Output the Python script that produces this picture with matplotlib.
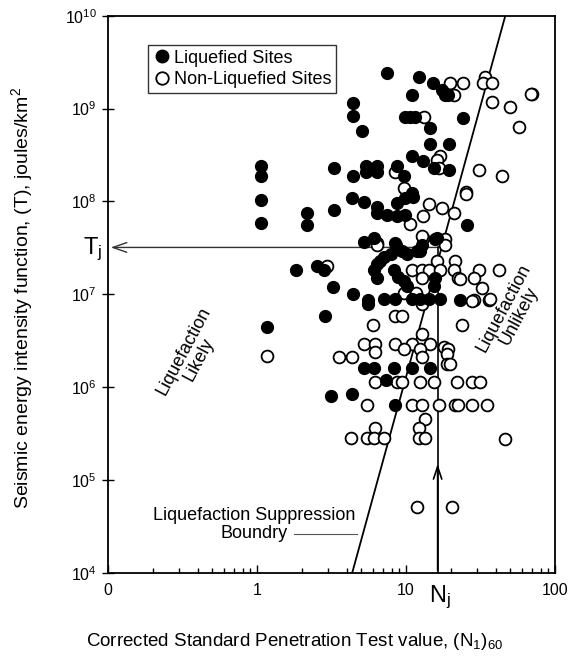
# -----------------
# import libraries
# -----------------
import numpy as np
import matplotlib
matplotlib.use("Agg")
import matplotlib.pyplot as plt
from matplotlib.lines import Line2D

plt.rcParams["font.family"] = ["Liberation Sans", "DejaVu Sans"]
plt.rcParams["mathtext.default"] = "regular"

# ----------------------------------------
# Data: (N1)60 and T
# ----------------------------------------
liq_n = [7.5, 12.2, 15.2, 17.5, 18.2, 19.0, 11.0, 4.4, 4.4, 5.1, 9.8, 10.6, 11.5, 14.4, 24.0,
         14.4, 19.5, 11.0, 13.0, 15.4, 19.5, 1.07, 1.07, 3.3, 4.4, 5.35, 5.35, 6.4, 6.4, 8.7,
         9.75, 11.0, 1.07, 1.07, 2.18, 2.18, 3.3, 4.35, 5.2, 6.4, 6.4, 7.5, 8.7, 9.9, 8.7, 9.9,
         11.2, 25.6, 5.2, 6.1, 8.5, 8.6, 9.4, 10.2, 12.8, 12.5, 16.1, 15.7, 11.9, 7.1, 6.7, 6.4,
         7.9, 6.1, 6.4, 8.3, 8.9, 9.7, 10.2, 15.4, 15.7, 1.82, 2.54, 2.8, 3.24, 4.4, 5.6, 5.6,
         7.1, 8.5, 11.0, 12.5, 14.2, 17.0, 23.1, 2.88, 1.17, 5.2, 6.1, 8.3, 11.0, 14.6, 7.3,
         3.12, 4.35, 8.5]
liq_t = [2.4e9, 2.2e9, 1.9e9, 1.6e9, 1.4e9, 1.4e9, 1.4e9, 1.16e9, 8.3e8, 5.7e8, 8.1e8, 8.1e8,
         8.1e8, 6.2e8, 7.9e8, 4.2e8, 4.2e8, 3.05e8, 2.75e8, 2.3e8, 2.2e8, 2.4e8, 1.9e8, 2.3e8,
         1.86e8, 2.4e8, 2.1e8, 2.4e8, 2.1e8, 2.4e8, 1.86e8, 1.24e8, 1.04e8, 5.9e7, 7.5e7,
         5.6e7, 8.0e7, 1.09e8, 9.8e7, 8.8e7, 7.5e7, 7.2e7, 7.0e7, 7.2e7, 9.6e7, 1.09e8, 1.13e8,
         5.6e7, 3.7e7, 4.0e7, 3.6e7, 3.4e7, 2.9e7, 2.7e7, 3.4e7, 2.9e7, 4.0e7, 3.9e7, 2.9e7,
         2.5e7, 2.3e7, 2.1e7, 2.7e7, 1.84e7, 1.5e7, 1.84e7, 1.55e7, 1.38e7, 1.22e7, 1.22e7,
         1.5e7, 1.84e7, 2.0e7, 1.84e7, 1.2e7, 1.0e7, 8.7e6, 7.8e6, 9.0e6, 9.0e6, 9.0e6, 9.0e6,
         9.0e6, 9.0e6, 8.8e6, 5.9e6, 4.4e6, 1.6e6, 1.6e6, 1.6e6, 1.6e6, 1.6e6, 1.2e6, 8.1e5,
         8.55e5, 6.4e5]

non_n = [19.8, 24.3, 20.9, 34.0, 32.8, 37.7, 37.7, 70.0, 69.0, 49.5, 57.0, 30.7, 44.0, 25.3,
         13.3, 17.0, 16.1, 16.6, 8.5, 9.75, 14.2, 17.5, 20.9, 13.0, 10.7, 25.4, 6.4, 13.0, 18.4,
         18.4, 16.1, 21.4, 11.0, 12.8, 14.2, 17.0, 20.9, 30.7, 41.8, 12.8, 22.5, 28.4, 32.3,
         28.4, 35.8, 11.6, 9.7, 12.8, 8.5, 9.4, 6.0, 23.8, 12.8, 5.2, 6.2, 8.5, 11.0, 14.6, 6.2,
         9.75, 12.5, 12.8, 17.9, 19.2, 18.8, 18.8, 19.8, 3.54, 4.36, 1.17, 6.2, 8.7, 9.4, 12.5,
         15.4, 22.0, 27.7, 31.5, 2.95, 23.0, 36.5, 27.7, 5.5, 11.0, 12.8, 16.6, 21.4, 22.5, 27.7,
         34.9, 13.5, 6.2, 12.2, 4.25, 5.5, 6.1, 7.1, 12.2, 13.5, 46.4, 11.9, 20.3, 6.4, 12.8]
non_t = [1.9e9, 1.9e9, 1.4e9, 2.2e9, 1.9e9, 1.9e9, 1.19e9, 1.43e9, 1.43e9, 1.03e9, 6.3e8, 2.2e8,
         1.9e8, 1.25e8, 8.1e8, 3.05e8, 2.8e8, 2.3e8, 2.1e8, 1.4e8, 9.3e7, 8.5e7, 7.5e7, 7.0e7,
         5.7e7, 1.2e8, 3.6e7, 4.0e7, 3.9e7, 3.4e7, 2.3e7, 2.3e7, 1.84e7, 1.84e7, 1.84e7, 1.84e7,
         1.84e7, 1.84e7, 1.84e7, 1.5e7, 1.5e7, 1.5e7, 1.17e7, 8.8e6, 8.8e6, 1.03e7, 1.03e7,
         7.8e6, 5.9e6, 5.9e6, 4.7e6, 4.7e6, 3.7e6, 2.9e6, 2.9e6, 2.9e6, 2.9e6, 2.9e6, 2.4e6,
         2.6e6, 2.6e6, 2.1e6, 2.7e6, 2.6e6, 2.3e6, 1.8e6, 1.8e6, 2.1e6, 2.1e6, 2.15e6, 1.13e6,
         1.13e6, 1.13e6, 1.13e6, 1.13e6, 1.13e6, 1.13e6, 1.13e6, 2.0e7, 1.45e7, 9.0e6, 8.4e6,
         6.4e5, 6.4e5, 6.4e5, 6.4e5, 6.4e5, 6.4e5, 6.4e5, 6.4e5, 4.5e5, 3.6e5, 3.6e5, 2.86e5,
         2.86e5, 2.86e5, 2.86e5, 2.86e5, 2.86e5, 2.8e5, 5.2e4, 5.2e4, 3.4e7, 4.2e7]

# suppression boundary end points and the Tj / Nj construction
boundary_n = [4.35, 46.4]
boundary_t = [1e4, 1e10]
t_j = 3.2e7
n_j = 16.3

x_ticks = [0.1, 1, 10, 100]
x_labels = ["0", "1", "10", "100"]
y_ticks = [1e4, 1e5, 1e6, 1e7, 1e8, 1e9, 1e10]
y_labels = ["10$^{%d}$" % p for p in range(4, 11)]

# ----------------
# Plot
# ----------------
fig = plt.figure(figsize=(5.70, 6.62), dpi=100)
ax = fig.add_axes([0.1895, 0.1344, 0.7842, 0.8419])

ax.set_xscale("log")
ax.set_yscale("log")
ax.set_xlim(0.1, 100)
ax.set_ylim(1e4, 1e10)

ax.plot(non_n, non_t, "o", mfc="white", mec="black", mew=1.3, ms=8.5, ls="none", zorder=3)
ax.plot(liq_n, liq_t, "o", mfc="black", mec="black", ms=8.5, ls="none", zorder=4)

# boundary
ax.plot(boundary_n, boundary_t, color="black", lw=1.3, zorder=2)

# Tj arrow to the y axis, Nj line with arrow head in the middle
ax.annotate("", xy=(0.1, t_j), xytext=(17.3, t_j),
            arrowprops=dict(arrowstyle="->,head_length=1.0,head_width=0.35", color="#333333", lw=1.0),
            zorder=2)
ax.plot([n_j, n_j], [1e4, t_j], color="black", lw=1.2, zorder=2)
ax.annotate("", xy=(n_j, 1.6e5), xytext=(n_j, 1e4),
            arrowprops=dict(arrowstyle="->,head_length=0.9,head_width=0.3", color="black", lw=1.2),
            zorder=2)

# labels on the plot
ax.text(0.36, 2.2e6, "Liquefaction\nLikely", rotation=62, ha="center", va="center",
        fontsize=13, linespacing=1.0)
ax.text(51, 6.5e6, "Liquefaction\nUnlikely", rotation=62, ha="center", va="center",
        fontsize=13, linespacing=1.0)
ax.text(0.95, 4.2e4, "Liquefaction Suppression", ha="center", va="center", fontsize=13)
ax.text(0.95, 2.65e4, "Boundry", ha="center", va="center", fontsize=13)
ax.plot([1.76, 4.7], [2.65e4, 2.65e4], color="#555555", lw=0.8)

# axes styling
ax.set_xticks(x_ticks)
ax.set_xticklabels(x_labels, fontsize=11.5)
ax.set_yticks(y_ticks)
ax.set_yticklabels(y_labels, fontsize=11.5)
ax.yaxis.set_minor_locator(matplotlib.ticker.NullLocator())
ax.tick_params(axis="x", which="major", direction="in", length=6, width=1, pad=7)
ax.tick_params(axis="x", which="minor", direction="in", length=3.5, width=1)
ax.tick_params(axis="y", which="major", direction="inout", length=9, width=1)
for s in ax.spines.values():
    s.set_linewidth(1.3)

# Tj and Nj labels
fig.text(93 / 570, 1 - 249 / 662, "T$_j$", fontsize=17, ha="center", va="center")
fig.text(440 / 570, 1 - 597 / 662, "N$_j$", fontsize=17, ha="center", va="center")

# axis titles
fig.text(295 / 570, 1 - 641 / 662, "Corrected Standard Penetration Test value, (N$_1$)$_{60}$",
         fontsize=13.5, ha="center", va="center")
fig.text(22 / 570, 1 - 298 / 662, "Seismic energy intensity function, (T), joules/km$^2$",
         fontsize=14, ha="center", va="center", rotation=90)

# legend
handles = [Line2D([], [], marker="o", ls="none", mfc="black", mec="black", ms=9),
           Line2D([], [], marker="o", ls="none", mfc="white", mec="black", mew=1.3, ms=9)]
leg = ax.legend(handles, ["Liquefied Sites", "Non-Liquefied Sites"], loc="upper left",
                bbox_to_anchor=(0.09, 0.947), fontsize=13, frameon=True, fancybox=False,
                handletextpad=0.2, borderpad=0.25, labelspacing=0.25, handlelength=1.0,
                borderaxespad=0)
leg.get_frame().set_edgecolor("black")
leg.get_frame().set_linewidth(1.0)

fig.savefig("out.png", dpi=100)
